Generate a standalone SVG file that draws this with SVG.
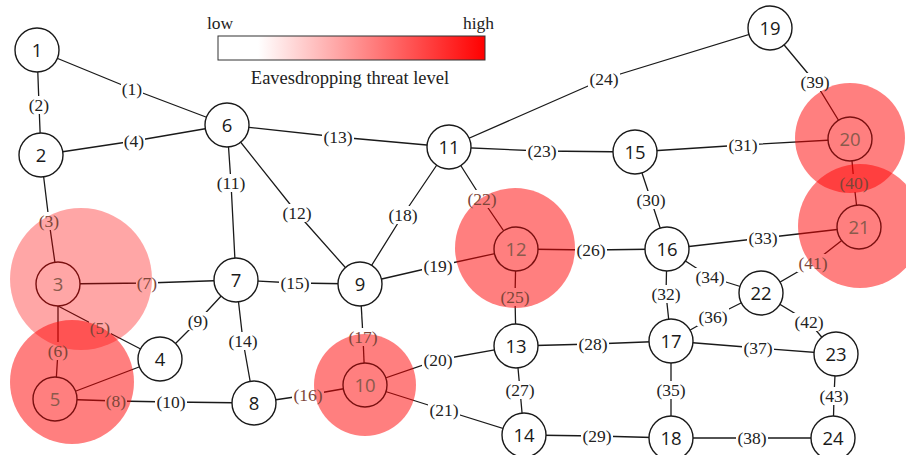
<svg xmlns="http://www.w3.org/2000/svg" width="906" height="455" viewBox="0 0 906 455">
<style>
.e{fill:none;stroke:#1a1a1a;stroke-width:1.3}
.n circle{fill:#fff;stroke:#1a1a1a;stroke-width:1.4}
.n text{font-family:"Open Sans","Noto Sans",sans-serif;font-size:18.5px;fill:#1a1a1a;text-anchor:middle}
.p circle{fill:none;stroke:#7a1010;stroke-width:1.4}
.p text{font-family:"Open Sans","Noto Sans",sans-serif;font-size:18.5px;fill:#8a5a4c;text-anchor:middle}
.lb text{font-family:"Liberation Serif","Times New Roman",serif;font-size:17.5px;fill:#222;text-anchor:middle}
.lb text.b{fill:#7d4538}
.lg{font-family:"Liberation Serif","Times New Roman",serif;fill:#222}
.t{fill:#ff0000}
</style>
<defs>
<linearGradient id="grad" x1="0" y1="0" x2="1" y2="0">
<stop offset="0" stop-color="#ffffff"/>
<stop offset="0.15" stop-color="#ffffff"/>
<stop offset="1" stop-color="#ff0000"/>
</linearGradient>
<mask id="gaps" maskUnits="userSpaceOnUse" x="0" y="0" width="906" height="455">
<rect width="906" height="455" fill="#fff"/>
<g fill="#000">
<circle cx="37" cy="50" r="22"/><circle cx="41" cy="155" r="22"/><circle cx="58" cy="284" r="22"/><circle cx="160" cy="359" r="22"/>
<circle cx="55" cy="399" r="22"/><circle cx="227" cy="125" r="22"/><circle cx="236" cy="280" r="22"/><circle cx="254" cy="403" r="22"/>
<circle cx="360" cy="284" r="22"/><circle cx="365" cy="385" r="22"/><circle cx="449" cy="147" r="22"/><circle cx="516" cy="249" r="22"/>
<circle cx="516" cy="346" r="22"/><circle cx="524" cy="435" r="22"/><circle cx="635" cy="152" r="22"/><circle cx="667" cy="249" r="22"/>
<circle cx="671" cy="341" r="22"/><circle cx="671" cy="438" r="22"/><circle cx="770" cy="28" r="22"/><circle cx="850" cy="139" r="22"/>
<circle cx="859" cy="227" r="22"/><circle cx="761" cy="293" r="22"/><circle cx="836" cy="354" r="22"/><circle cx="833" cy="438" r="22"/>
<rect x="121" y="80" width="22" height="18"/><rect x="28" y="96" width="22" height="18"/><rect x="38" y="212" width="22" height="18"/>
<rect x="123" y="132" width="22" height="18"/><rect x="89" y="319" width="22" height="18"/><rect x="47" y="342" width="22" height="18"/>
<rect x="136" y="274" width="22" height="18"/><rect x="105" y="392" width="22" height="18"/><rect x="187" y="312" width="22" height="18"/>
<rect x="155" y="393" width="32" height="18"/><rect x="215" y="174" width="32" height="18"/><rect x="281" y="204" width="32" height="18"/>
<rect x="322" y="128" width="32" height="18"/><rect x="227" y="332" width="32" height="18"/><rect x="279" y="274" width="32" height="18"/>
<rect x="292" y="386" width="32" height="18"/><rect x="347" y="328" width="32" height="18"/><rect x="387" y="206" width="32" height="18"/>
<rect x="422" y="257" width="32" height="18"/><rect x="422" y="351" width="32" height="18"/><rect x="428" y="401" width="32" height="18"/>
<rect x="466" y="190" width="32" height="18"/><rect x="526" y="142" width="32" height="18"/><rect x="588" y="70" width="32" height="18"/>
<rect x="499" y="288" width="32" height="18"/><rect x="575" y="241" width="32" height="18"/><rect x="504" y="381" width="32" height="18"/>
<rect x="577" y="335" width="32" height="18"/><rect x="581" y="427" width="32" height="18"/><rect x="635" y="191" width="32" height="18"/>
<rect x="727" y="136" width="32" height="18"/><rect x="650" y="285" width="32" height="18"/><rect x="747" y="229" width="32" height="18"/>
<rect x="694" y="268" width="32" height="18"/><rect x="655" y="381" width="32" height="18"/><rect x="697" y="308" width="32" height="18"/>
<rect x="742" y="339" width="32" height="18"/><rect x="736" y="429" width="32" height="18"/><rect x="799" y="73" width="32" height="18"/>
<rect x="838" y="174" width="32" height="18"/><rect x="797" y="254" width="32" height="18"/><rect x="793" y="313" width="32" height="18"/>
<rect x="818" y="387" width="32" height="18"/>
</g>
</mask>
</defs>
<rect width="906" height="455" fill="#fff"/>

<g id="legend">
<text class="lg" x="207" y="29" font-size="17.5">low</text>
<text class="lg" x="494" y="29" font-size="17.5" text-anchor="end">high</text>
<rect x="218" y="36" width="267" height="24" fill="url(#grad)" stroke="#333" stroke-width="1"/>
<text class="lg" x="350" y="84" font-size="18.5" text-anchor="middle">Eavesdropping threat level</text>
</g>

<g id="connectors" mask="url(#gaps)">
<polyline class="e" points="37,50 132,89 227,125"/>
<polyline class="e" points="37,50 39,105 41,155"/>
<polyline class="e" points="41,155 49,221 58,284"/>
<polyline class="e" points="41,155 134,141 227,125"/>
<polyline class="e" points="58,306 100,328 160,359"/>
<polyline class="e" points="58,284 58,351 55,399"/>
<polyline class="e" points="58,284 147,283 236,280"/>
<polyline class="e" points="55,399 116,401 171,402 254,403"/>
<polyline class="e" points="160,359 55,399"/>
<polyline class="e" points="160,359 198,321 236,280"/>
<polyline class="e" points="227,125 231,183 236,280"/>
<polyline class="e" points="227,125 297,213 360,284"/>
<polyline class="e" points="227,125 338,137 449,147"/>
<polyline class="e" points="236,280 243,341 254,403"/>
<polyline class="e" points="236,280 295,283 360,284"/>
<polyline class="e" points="254,403 308,395 365,385"/>
<polyline class="e" points="360,284 363,337" stroke-width="2"/>
<polyline class="e" points="363,337 365,385"/>
<polyline class="e" points="360,284 403,215 449,147"/>
<polyline class="e" points="360,284 438,266 516,249"/>
<polyline class="e" points="365,385 438,360 516,346"/>
<polyline class="e" points="365,385 444,410 524,435"/>
<polyline class="e" points="449,147 482,199 516,249"/>
<polyline class="e" points="449,147 542,151 635,152"/>
<polyline class="e" points="449,147 604,79 770,28"/>
<polyline class="e" points="516,249 515,297 516,346"/>
<polyline class="e" points="516,249 591,250 667,249"/>
<polyline class="e" points="516,346 520,390 524,435"/>
<polyline class="e" points="516,346 593,344 671,341"/>
<polyline class="e" points="524,435 597,436 671,438"/>
<polyline class="e" points="635,152 651,200 667,249"/>
<polyline class="e" points="635,152 743,145 850,139"/>
<polyline class="e" points="667,249 666,294 671,341"/>
<polyline class="e" points="667,249 763,238 859,227"/>
<polyline class="e" points="667,249 710,277 761,293"/>
<polyline class="e" points="671,341 671,390 671,438"/>
<polyline class="e" points="671,341 713,317 761,293"/>
<polyline class="e" points="671,341 758,348 836,354"/>
<polyline class="e" points="671,438 752,438 833,438"/>
<polyline class="e" points="770,28 815,82 850,139"/>
<polyline class="e" points="850,139 854,183 859,227"/>
<polyline class="e" points="859,227 813,263 761,293"/>
<polyline class="e" points="761,293 809,322 836,354"/>
<polyline class="e" points="836,354 834,396 833,438"/>
</g>

<g id="nodes">
<g id="node1" class="n"><circle cx="37" cy="50" r="22"/><text x="37" y="56.5">1</text></g>
<g id="node2" class="n"><circle cx="41" cy="155" r="22"/><text x="41" y="161.5">2</text></g>
<g id="node4" class="n"><circle cx="160" cy="359" r="22"/><text x="160" y="365.5">4</text></g>
<g id="node6" class="n"><circle cx="227" cy="125" r="22"/><text x="227" y="131.5">6</text></g>
<g id="node7" class="n"><circle cx="236" cy="280" r="22"/><text x="236" y="286.5">7</text></g>
<g id="node8" class="n"><circle cx="254" cy="403" r="22"/><text x="254" y="409.5">8</text></g>
<g id="node9" class="n"><circle cx="360" cy="284" r="22"/><text x="360" y="290.5">9</text></g>
<g id="node11" class="n"><circle cx="449" cy="147" r="22"/><text x="449" y="153.5">11</text></g>
<g id="node13" class="n"><circle cx="516" cy="346" r="22"/><text x="516" y="352.5">13</text></g>
<g id="node14" class="n"><circle cx="524" cy="435" r="22"/><text x="524" y="441.5">14</text></g>
<g id="node15" class="n"><circle cx="635" cy="152" r="22"/><text x="635" y="158.5">15</text></g>
<g id="node16" class="n"><circle cx="667" cy="249" r="22"/><text x="667" y="255.5">16</text></g>
<g id="node17" class="n"><circle cx="671" cy="341" r="22"/><text x="671" y="347.5">17</text></g>
<g id="node18" class="n"><circle cx="671" cy="438" r="22"/><text x="671" y="444.5">18</text></g>
<g id="node19" class="n"><circle cx="770" cy="28" r="22"/><text x="770" y="34.5">19</text></g>
<g id="node22" class="n"><circle cx="761" cy="293" r="22"/><text x="761" y="299.5">22</text></g>
<g id="node23" class="n"><circle cx="836" cy="354" r="22"/><text x="836" y="360.5">23</text></g>
<g id="node24" class="n"><circle cx="833" cy="438" r="22"/><text x="833" y="444.5">24</text></g>
</g>

<g id="threat-zones">
<circle class="t" cx="81" cy="279" r="71" opacity="0.35"/>
<circle class="t" cx="72" cy="382" r="62" opacity="0.5"/>
<circle class="t" cx="365" cy="385" r="51" opacity="0.5"/>
<circle class="t" cx="515" cy="248" r="60" opacity="0.5"/>
<circle class="t" cx="850" cy="138" r="55" opacity="0.5"/>
<circle class="t" cx="860" cy="226" r="62" opacity="0.5"/>
</g>

<g id="threatened-nodes">
<g id="node3" class="p"><circle cx="58" cy="284" r="22"/><text x="58" y="290.5">3</text></g>
<g id="node5" class="p"><circle cx="55" cy="399" r="22"/><text x="55" y="405.5">5</text></g>
<g id="node10" class="p"><circle cx="365" cy="385" r="22"/><text x="365" y="391.5">10</text></g>
<g id="node12" class="p"><circle cx="516" cy="249" r="22"/><text x="516" y="255.5">12</text></g>
<g id="node20" class="p"><circle cx="850" cy="139" r="22"/><text x="850" y="145.5">20</text></g>
<g id="node21" class="p"><circle cx="859" cy="227" r="22"/><text x="859" y="233.5">21</text></g>
</g>

<g id="edge-labels" class="lb">
<text x="132" y="95">(1)</text>
<text x="39" y="111">(2)</text>
<text class="b" x="49" y="227">(3)</text>
<text x="134" y="147">(4)</text>
<text class="b" x="100" y="334">(5)</text>
<text class="b" x="58" y="357">(6)</text>
<text class="b" x="147" y="289">(7)</text>
<text class="b" x="116" y="407">(8)</text>
<text x="198" y="327">(9)</text>
<text x="171" y="408">(10)</text>
<text x="231" y="189">(11)</text>
<text x="297" y="219">(12)</text>
<text x="338" y="143">(13)</text>
<text x="243" y="347">(14)</text>
<text x="295" y="289">(15)</text>
<text class="b" x="308" y="401">(16)</text>
<text class="b" x="363" y="343">(17)</text>
<text x="403" y="221">(18)</text>
<text x="438" y="272">(19)</text>
<text x="438" y="366">(20)</text>
<text x="444" y="416">(21)</text>
<text class="b" x="482" y="205">(22)</text>
<text x="542" y="157">(23)</text>
<text x="604" y="85">(24)</text>
<text class="b" x="515" y="303">(25)</text>
<text x="591" y="256">(26)</text>
<text x="520" y="396">(27)</text>
<text x="593" y="350">(28)</text>
<text x="597" y="442">(29)</text>
<text x="651" y="206">(30)</text>
<text x="743" y="151">(31)</text>
<text x="666" y="300">(32)</text>
<text x="763" y="244">(33)</text>
<text x="710" y="283">(34)</text>
<text x="671" y="396">(35)</text>
<text x="713" y="323">(36)</text>
<text x="758" y="354">(37)</text>
<text x="752" y="444">(38)</text>
<text x="815" y="88">(39)</text>
<text class="b" x="854" y="189">(40)</text>
<text class="b" x="813" y="269">(41)</text>
<text x="809" y="328">(42)</text>
<text x="834" y="402">(43)</text>
</g>
</svg>
